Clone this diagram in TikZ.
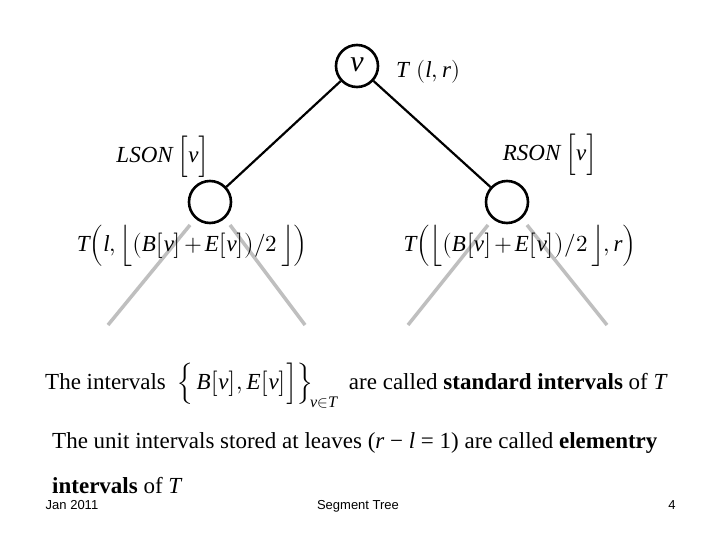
\documentclass[tikz,border=0pt]{standalone}
\usepackage{fontspec}
\usepackage{unicode-math}
\setmainfont{Liberation Serif}
\setmathfont{Latin Modern Math}
\setmathfont[range=it/{latin,Latin}]{Liberation Serif Italic}
\newfontfamily\footfont{Liberation Sans}
\newcommand\tightm{\medmuskip=2mu\thickmuskip=3mu\relax}
\begin{document}
\begin{tikzpicture}[x=1pt,y=-1pt,
  nd/.style={circle,draw,line width=2.6pt,minimum size=42pt,inner sep=0pt},
  blk/.style={line width=2.2pt},
  gr/.style={line width=3.5pt,draw=black!25},
  lab/.style={font=\fontsize{23}{27}\selectfont\tightm,inner sep=0pt},
  txt/.style={font=\fontsize{23}{27}\selectfont,anchor=base west,inner sep=0pt},
  ft/.style={font=\footfont\fontsize{13}{15}\selectfont,inner sep=0pt,anchor=base}]
\useasboundingbox (0,0) rectangle (720,540);
\fill[white] (0,0) rectangle (720,540);
\coordinate (g1a) at (190,225); \coordinate (g1b) at (108,325);
\coordinate (g2a) at (230,225); \coordinate (g2b) at (305,325);
\coordinate (g3a) at (488,225); \coordinate (g3b) at (408,325);
\coordinate (g4a) at (527,225); \coordinate (g4b) at (607,325);
\draw[gr] (g1a)--(g1b); \draw[gr] (g2a)--(g2b);
\draw[gr] (g3a)--(g3b); \draw[gr] (g4a)--(g4b);
\node[nd,fill=white,font=\fontsize{30}{32}\selectfont\itshape] (root) at (357,66) {\raisebox{2pt}{v}};
\node[nd] (L) at (210,202) {};
\node[nd] (R) at (507,202) {};
\draw[blk] (root)--(L); \draw[blk] (root)--(R);
\node[lab] (tlr) at (428,72) {$T\,\left(l,r\right)$};
\node[lab] (lson) at (163,157) {\textit{LSON}\,$\Bigl[v\Bigr]$};
\node[lab] (rson) at (550,155) {\textit{RSON}\,$\Bigl[v\Bigr]$};
\node[lab] (tl) at (192,246) {$T\Bigl(l,\Bigl\lfloor\bigl(B\bigl[v\bigr]+E\bigl[v\bigr]\bigr)/2\,\Bigr\rfloor\Bigr)$};
\node[lab] (tr) at (520,246) {$T\Bigl(\Bigl\lfloor\bigl(B\bigl[v\bigr]+E\bigl[v\bigr]\bigr)/2\,\Bigr\rfloor,r\Bigr)$};
\node[txt] (l1) at (45,389) {The intervals\enspace $\Bigl\{\,B\bigl[v\bigr],E\bigl[v\bigr]\Bigr]\Bigr\}_{\!v\in T}$\enspace are called \textbf{standard intervals} of \textit{T}};
\node[txt] (l2) at (52,448) {The unit intervals stored at leaves (\textit{r} − \textit{l} = 1) are called \textbf{elementry}};
\node[txt] (l3) at (52,493) {\textbf{intervals} of \textit{T}};
\node[ft] (f1) at (72,509) {Jan 2011};
\node[ft] (f2) at (358,509) {Segment Tree};
\node[ft] (f3) at (672,509) {4};
\end{tikzpicture}
\end{document}
